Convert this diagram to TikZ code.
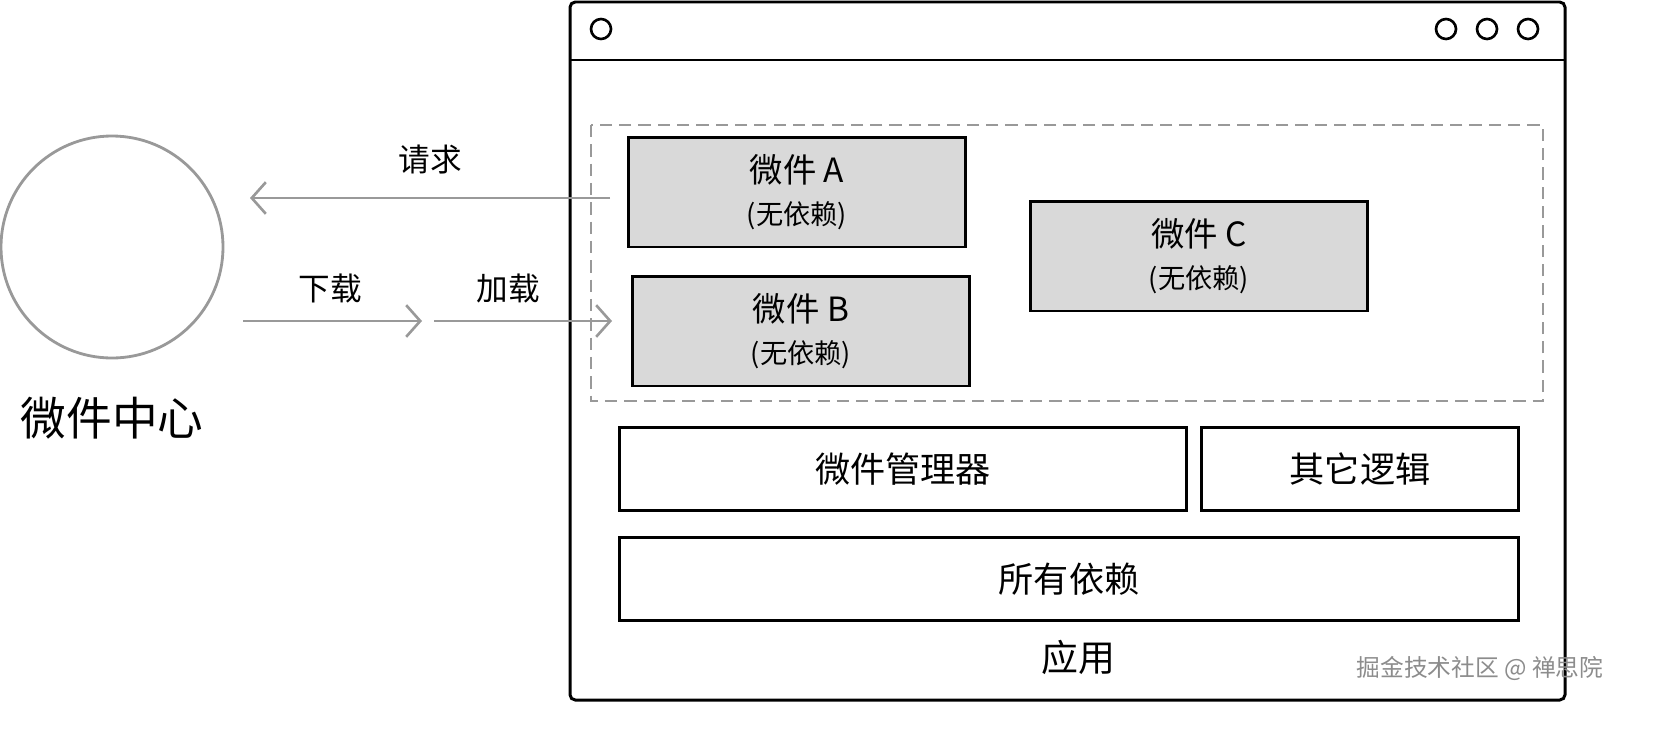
\documentclass[tikz,border=0pt]{standalone}
\usepackage{fontspec}
\setmainfont{Noto Sans CJK SC}
\usetikzlibrary{arrows.meta}
\usetikzlibrary{positioning}
\definecolor{boxgray}{HTML}{D9D9D9}
\definecolor{linegray}{HTML}{999999}
\tikzset{
  widget/.style={draw=black,line width=1.7pt,fill=boxgray,minimum width=6.76cm,minimum height=2.2cm,align=center,font=\fontsize{19}{26}\selectfont},
  block/.style={draw=black,line width=1.7pt,fill=white,minimum height=1.66cm,font=\fontsize{20}{24}\selectfont},
  flow/.style={draw=linegray,line width=1.5pt,-{Straight Barb[length=8pt,width=18pt,line width=1.5pt]}},
  lbl/.style={font=\fontsize{18}{22}\selectfont}
}
\begin{document}
\begin{tikzpicture}[x=0.02cm,y=-0.02cm]
  \useasboundingbox (0,0) rectangle (1662,744);
  %widget center
  \draw[linegray,line width=1.6pt] (112,247) circle (111);
  \node[font=\fontsize{26}{30}\selectfont] (center) at (112,418) {微件中心};
  %browser window
  \draw[line width=1.7pt,rounded corners=3pt] (570,2) rectangle (1565,700);
  \draw[line width=1.7pt] (570,60) -- (1565,60);
  \draw[line width=1.5pt] (601,29) circle (10);
  \foreach \x in {1446,1487,1528}
    \draw[line width=1.5pt] (\x,29) circle (10);
  \draw[linegray,line width=0.9pt,dash pattern=on 7pt off 4pt] (591,125) rectangle (1543,401);
  %widgets
  \node[widget] (wa) at (797,192) {微件 A\\[-2pt]{\fontsize{15.5}{19}\selectfont (无依赖)}};
  \node[widget] (wb) at (801,331) {微件 B\\[-2pt]{\fontsize{15.5}{19}\selectfont (无依赖)}};
  \node[widget] (wc) at (1199,256) {微件 C\\[-2pt]{\fontsize{15.5}{19}\selectfont (无依赖)}};
  %lower blocks
  \node[block,minimum width=11.36cm] (manager) at (903,469) {微件管理器};
  \node[block,minimum width=6.36cm] (other) at (1360,469) {其它逻辑};
  \node[block,minimum width=18cm] (deps) at (1069,579) {所有依赖};
  \node[font=\fontsize{21}{26}\selectfont] (app) at (1078,657) {应用};
  %arrows
  \coordinate (reqs) at (610,198);
  \coordinate (reqe) at (250,198);
  \coordinate (dls) at (243,321);
  \coordinate (dle) at (422,321);
  \coordinate (lds) at (434,321);
  \coordinate (lde) at (612,321);
  \draw[flow] (reqs) -- (reqe);
  \draw[flow] (dls) -- (dle);
  \draw[flow] (lds) -- (lde);
  \node[lbl] (req) at (430,160) {请求};
  \node[lbl] (dl) at (330,288) {下载};
  \node[lbl] (ld) at (508,288) {加载};
  %watermark
  \node[text=black!45,font=\fontsize{13.5}{16}\selectfont] (mark) at (1480,668) {掘金技术社区 @ 禅思院};
\end{tikzpicture}
\end{document}
